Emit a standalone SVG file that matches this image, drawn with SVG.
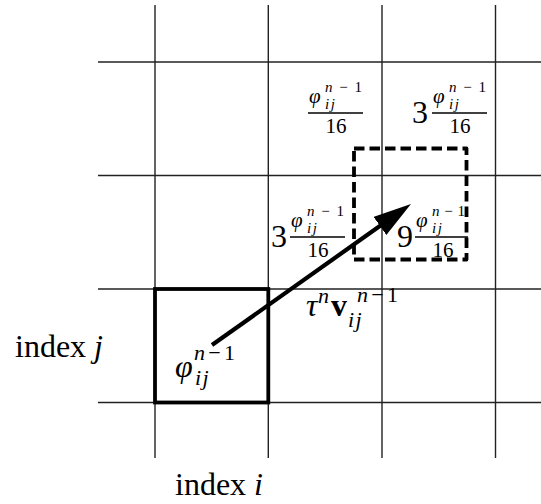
<svg xmlns="http://www.w3.org/2000/svg" width="541" height="504" viewBox="0 0 541 504">
<style>
.grid{stroke:#222;stroke-width:1.4;fill:none}
.t{font-family:"Liberation Serif","Times New Roman",serif;fill:#000}
.it{font-style:italic}
.ij{font-style:italic;letter-spacing:1.5px}
.bar{stroke:#000;stroke-width:1.6}
.solid{fill:none;stroke:#000;stroke-width:3.8}
.dash{fill:none;stroke:#000;stroke-width:3.8;stroke-dasharray:10.5 5;stroke-linejoin:round}
.arrow{stroke:#000;stroke-width:4.2;fill:none}
</style>
<defs>
<marker id="head" markerUnits="userSpaceOnUse" viewBox="0 0 38 22" markerWidth="38" markerHeight="22" refX="2" refY="11" orient="auto">
<path d="M0,0 L38,11 L0,22 Z" fill="#000"/>
</marker>
</defs>
<rect width="541" height="504" fill="#fff"/>
<g id="grid">
<line class="grid" x1="155" y1="5" x2="155" y2="458"/>
<line class="grid" x1="268.3" y1="5" x2="268.3" y2="458"/>
<line class="grid" x1="382" y1="5" x2="382" y2="458"/>
<line class="grid" x1="495.5" y1="5" x2="495.5" y2="458"/>
<line class="grid" x1="98" y1="62" x2="541" y2="62"/>
<line class="grid" x1="98" y1="175.5" x2="541" y2="175.5"/>
<line class="grid" x1="98" y1="289" x2="541" y2="289"/>
<line class="grid" x1="98" y1="402.5" x2="541" y2="402.5"/>
</g>
<g id="source-cell">
<rect class="solid" x="155" y="289" width="113.3" height="113.5"/>
<text class="t it" x="175" y="377" font-size="32">φ</text>
<text class="t" x="194" y="360" font-size="22" textLength="41"><tspan class="it">n</tspan>−1</text>
<text class="t ij" x="195" y="385" font-size="22">ij</text>
</g>
<g id="target-cell">
<rect class="dash" x="354" y="148.5" width="112.5" height="111"/>
</g>
<g id="frac-top-left" transform="translate(308,113)">
<text class="t it" x="1" y="-10" font-size="21">φ</text>
<text class="t" x="17" y="-21" font-size="15" textLength="37"><tspan class="it">n</tspan>−1</text>
<text class="t ij" x="17" y="-4" font-size="15">ij</text>
<line class="bar" x1="0" y1="0" x2="55" y2="0"/>
<text class="t" x="28" y="20" font-size="21" text-anchor="middle">16</text>
</g>
<g id="frac-top-right" transform="translate(432,113)">
<text class="t" x="-20" y="10" font-size="32">3</text>
<text class="t it" x="1" y="-10" font-size="21">φ</text>
<text class="t" x="17" y="-21" font-size="15" textLength="37"><tspan class="it">n</tspan>−1</text>
<text class="t ij" x="17" y="-4" font-size="15">ij</text>
<line class="bar" x1="0" y1="0" x2="55" y2="0"/>
<text class="t" x="28" y="20" font-size="21" text-anchor="middle">16</text>
</g>
<g id="frac-mid-left" transform="translate(290,237)">
<text class="t" x="-19" y="9.5" font-size="32">3</text>
<text class="t it" x="1" y="-10" font-size="21">φ</text>
<text class="t" x="17" y="-21" font-size="15" textLength="37"><tspan class="it">n</tspan>−1</text>
<text class="t ij" x="17" y="-4" font-size="15">ij</text>
<line class="bar" x1="0" y1="0" x2="55" y2="0"/>
<text class="t" x="28" y="20" font-size="21" text-anchor="middle">16</text>
</g>
<g id="frac-mid-right" transform="translate(415,237)">
<text class="t" x="-18" y="9.5" font-size="32">9</text>
<text class="t it" x="1" y="-10" font-size="21">φ</text>
<text class="t" x="17" y="-21" font-size="15" textLength="33"><tspan class="it">n</tspan>−1</text>
<text class="t ij" x="17" y="-4" font-size="15">ij</text>
<line class="bar" x1="0" y1="0" x2="53" y2="0"/>
<text class="t" x="28" y="20" font-size="21" text-anchor="middle">16</text>
</g>
<g id="connectors">
<line class="arrow" x1="212" y1="345" x2="381.6" y2="224.8" marker-end="url(#head)"/>
</g>
<g id="velocity-label">
<text class="t it" x="306" y="316" font-size="32">τ</text>
<text class="t it" x="318" y="303" font-size="22">n</text>
<text class="t" x="331" y="316" font-size="32" font-weight="bold">v</text>
<text class="t" x="357" y="302" font-size="22" textLength="41"><tspan class="it">n</tspan>−1</text>
<text class="t ij" x="348" y="327" font-size="22">ij</text>
</g>
<g id="axis-labels">
<text class="t" x="15" y="357" font-size="32">index <tspan class="it">j</tspan></text>
<text class="t" x="175" y="495" font-size="32">index <tspan class="it">i</tspan></text>
</g>
</svg>
